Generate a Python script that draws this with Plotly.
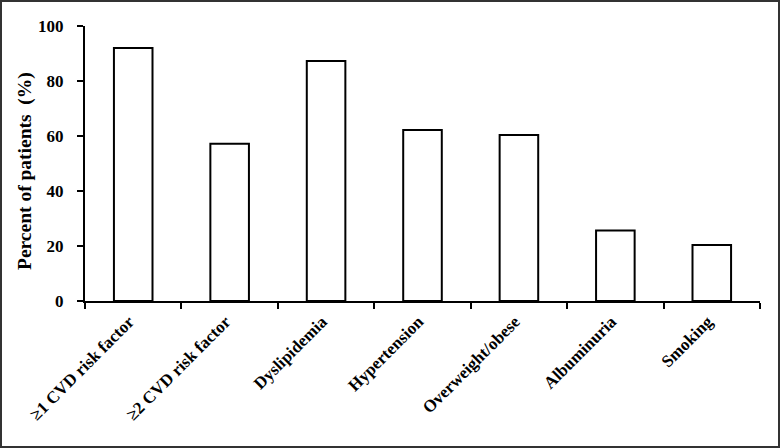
import plotly.graph_objects as go

categories = ["≥1 CVD risk factor", "≥2 CVD risk factor", "Dyslipidemia", "Hypertension",
              "Overweight/obese", "Albuminuria", "Smoking"]
values = [92.0, 57.2, 87.3, 62.2, 60.4, 25.6, 20.4]
y_ticks = [0, 20, 40, 60, 80, 100]

W, H = 780, 448
L, R, T, B = 85, 20, 26, 147
pw, ph = W - L - R, H - T - B

FONT = "Liberation Serif, Times New Roman, serif"

fig = go.Figure(go.Bar(
    x=categories, y=values, width=0.4,
    marker=dict(color="white", line=dict(color="black", width=2)),
))

fig.update_layout(
    width=W, height=H,
    margin=dict(l=L, r=R, t=T, b=B, autoexpand=False),
    plot_bgcolor="white", paper_bgcolor="white",
    showlegend=False,
    font=dict(family=FONT, color="black"),
    xaxis=dict(
        automargin=False,
        showline=True, linecolor="black", linewidth=2,
        ticks="outside", tickson="boundaries", ticklen=6, tickwidth=2, tickcolor="black",
        tickangle=-45, tickfont=dict(family=FONT, size=17, weight="bold"),
        ticklabelshift=-4, ticklabelstandoff=2,
        showgrid=False, range=[-0.5, 6.5],
    ),
    yaxis=dict(
        automargin=False,
        range=[0, 100], tickvals=y_ticks,
        showline=True, linecolor="black", linewidth=2,
        ticks="outside", ticklen=6, tickwidth=2, tickcolor="black",
        tickfont=dict(family=FONT, size=17, weight="bold"),
        ticklabelstandoff=10,
        showgrid=False, zeroline=False,
    ),
    annotations=[dict(
        text="Percent of patients \u00a0(%)", textangle=-90,
        xref="paper", yref="paper", x=(25 - L) / pw, y=(301 - 171) / ph,
        xanchor="center", yanchor="middle", showarrow=False,
        font=dict(family=FONT, size=19.5, weight="bold", color="black"),
    )],
    shapes=[dict(
        type="rect", xref="paper", yref="paper",
        x0=(1 - L) / pw, x1=1 + (R - 1) / pw,
        y0=-(B - 1) / ph, y1=1 + (T - 1) / ph,
        line=dict(color="#333333", width=2), fillcolor="rgba(0,0,0,0)",
    )],
)

fig.write_html("out.html", config={"displayModeBar": False},
               post_script="document.body.style.margin='0';document.body.style.overflow='hidden';")
